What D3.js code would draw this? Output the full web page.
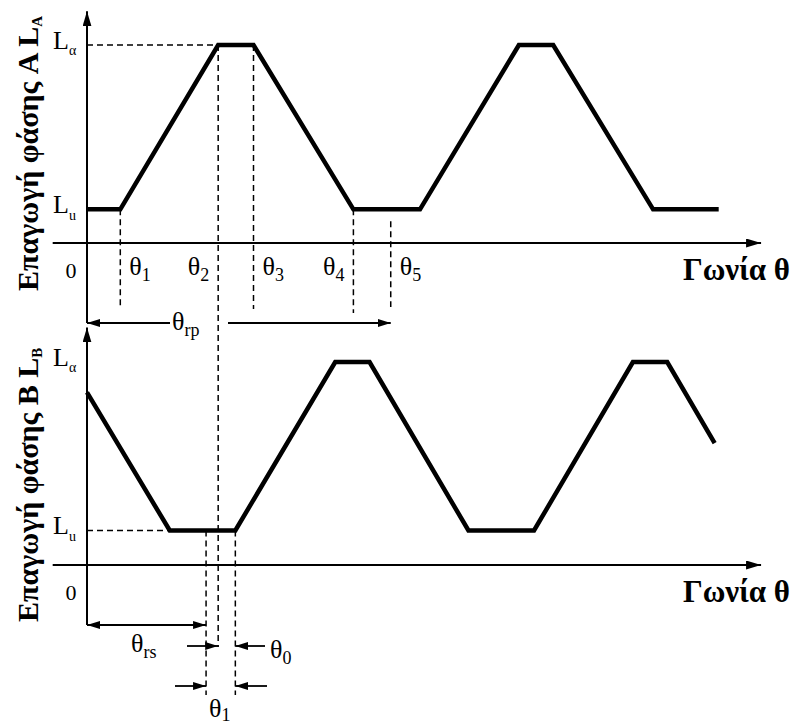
<!DOCTYPE html>
<html>
<head>
<meta charset="utf-8">
<script src="https://cdn.jsdelivr.net/npm/d3@7"></script>
<style>
  html, body { margin: 0; padding: 0; background: #fff; }
  svg { display: block; }
  text { font-family: "Liberation Serif", "Times New Roman", serif; fill: #000; }
</style>
</head>
<body>
<svg id="chart" width="794" height="724"></svg>
<script>
// Inductance levels (normalised): unaligned and aligned
const L_U = 0.17;
const L_A = 1.0;

// Phase A inductance profile: rotor angle (deg) and inductance
const angleA  = [0, 3.3, 13.0, 16.5, 26.4, 33.0, 42.8, 46.2, 56.1, 62.6];
const inductA = [L_U, L_U, L_A, L_A, L_U, L_U, L_A, L_A, L_U, L_U];

// Phase B inductance profile
const angleB  = [0, 8.2, 14.7, 24.6, 28.0, 37.8, 44.3, 54.1, 57.5, 62.2];
const inductB = [0.85, L_U, L_U, L_A, L_A, L_U, L_U, L_A, L_A, 0.60];

// Characteristic angles of phase A (θ1..θ5)
const markAngles = [3.3, 13.0, 16.5, 26.4, 30.1];
const markNames  = ["1", "2", "3", "4", "5"];
const markLevels = [L_U, L_A, L_A, L_U, 0.11];

// Phase B reference angles
const thetaRs = 11.8;   // end of θrs
const thetaB0 = 14.7;   // end of unaligned flat of phase B
const thetaRp = 30.1;   // rotor pole pitch

// Axis level labels
const levelVals  = [L_A, L_U];
const levelNames = ["α", "u"];

const svg = d3.select("#chart");
svg.append("rect").attr("width", 794).attr("height", 724).attr("fill", "#fff");

const x  = d3.scaleLinear().domain([0, 66]).range([87, 753]);
const yA = d3.scaleLinear().domain([0, 1]).range([243, 45]);
const yB = d3.scaleLinear().domain([0, 1]).range([565, 362]);

// arrowhead markers
const defs = svg.append("defs");
function marker(id, len, wid) {
  defs.append("marker")
    .attr("id", id)
    .attr("viewBox", `0 0 ${len} ${wid}`)
    .attr("refX", len).attr("refY", wid / 2)
    .attr("markerWidth", len).attr("markerHeight", wid)
    .attr("markerUnits", "userSpaceOnUse")
    .attr("orient", "auto-start-reverse")
    .append("path")
    .attr("d", `M0,0 L${len},${wid / 2} L0,${wid} Z`)
    .attr("fill", "#000");
}
marker("axisHead", 15, 9);
marker("dimHead", 13, 8);

const dash = "6,4";

function line(x1, y1, x2, y2, opts = {}) {
  const l = svg.append("line")
    .attr("x1", x1).attr("y1", y1).attr("x2", x2).attr("y2", y2)
    .attr("stroke", "#000")
    .attr("stroke-width", opts.w || 1.8);
  if (opts.dash) l.attr("stroke-dasharray", opts.dash).attr("stroke-width", opts.w || 1.5);
  if (opts.end) l.attr("marker-end", `url(#${opts.end})`);
  if (opts.start) l.attr("marker-start", `url(#${opts.start})`);
  return l;
}

// text with a subscript
function subText(px, py, main, sub, size, subSize, anchor, weight) {
  const t = svg.append("text")
    .attr("x", px).attr("y", py)
    .attr("font-size", size)
    .attr("text-anchor", anchor || "start")
    .attr("font-weight", weight || "normal");
  t.append("tspan").text(main);
  t.append("tspan").attr("font-size", subSize).attr("dy", size * 0.24).text(sub);
  return t;
}

function panel(y, angles, values, letter, titleY) {
  // horizontal axis
  line(x(-3.4), y(0), x(66.8), y(0), { end: "axisHead", w: 1.8 });
  // vertical axis
  line(x(0), y.range()[0] + (letter === "A" ? 80 : 60), x(0), y(1.17), { end: "axisHead", w: 2 });

  // level labels
  levelVals.forEach((v, i) => {
    subText(53, y(v) + 4, "L", levelNames[i], 26, 14);
  });
  svg.append("text").attr("x", 71).attr("y", y(0) + 35)
    .attr("text-anchor", "middle").attr("font-size", 22).attr("fill", "#222").text("0");

  // horizontal axis title
  svg.append("text").attr("x", 790).attr("y", y(0) + 37)
    .attr("text-anchor", "end").attr("font-size", 31).attr("font-weight", "bold")
    .text("Γωνία θ");

  // vertical axis title
  const t = svg.append("text")
    .attr("transform", `translate(38,${titleY}) rotate(-90)`)
    .attr("font-size", 30).attr("font-weight", "bold");
  t.append("tspan").text(`Επαγωγή φάσης ${letter} L`);
  t.append("tspan").attr("font-size", 15).attr("dy", 4).text(letter);

  // inductance waveform
  const pts = angles.map((a, i) => [a, values[i]]);
  svg.append("path")
    .datum(pts)
    .attr("d", d3.line().x(d => x(d[0])).y(d => y(d[1])))
    .attr("fill", "none")
    .attr("stroke", "#000")
    .attr("stroke-width", 4.5)
    .attr("stroke-linejoin", "miter");
}

panel(yA, angleA, inductA, "A", 291);
panel(yB, angleB, inductB, "B", 622);

// ---- phase A annotations ----
line(x(0), yA(L_A), x(markAngles[1]), yA(L_A), { dash });
const markBottoms = [308, 647, 309, 313, 307];
const labelSide = [1, -1, 1, -1, 1];
markAngles.forEach((a, i) => {
  line(x(a), yA(markLevels[i]), x(a), markBottoms[i], { dash });
  const px = x(a) + labelSide[i] * 9;
  subText(px, 275, "θ", markNames[i], 26, 18, labelSide[i] > 0 ? "start" : "end");
});

// θrp dimension
line(170, 323, x(0), 323, { end: "dimHead", w: 1.8 });
line(228, 323, x(thetaRp), 323, { end: "dimHead", w: 1.8 });
subText(172, 330, "θ", "rp", 26, 18);

// ---- phase B annotations ----
line(x(0), yB(L_U), x(angleB[1]), yB(L_U), { dash });
line(x(thetaRs), yB(L_U), x(thetaRs), 695, { dash });
line(x(thetaB0), yB(L_U), x(thetaB0), 695, { dash });

// θrs dimension
line(x(0), 625, x(thetaRs), 625, { start: "dimHead", end: "dimHead", w: 1.8 });
subText(131, 652, "θ", "rs", 26, 18);

// θ0 dimension (outside arrows)
line(187, 646, x(markAngles[1]), 646, { end: "dimHead", w: 1.8 });
line(265, 646, x(thetaB0), 646, { end: "dimHead", w: 1.8 });
subText(270, 658, "θ", "0", 26, 18);

// θ1 dimension (outside arrows)
const t1 = svg.append("text").attr("x", 209).attr("y", 717).attr("font-size", 26);
t1.append("tspan").text("θ");
t1.append("tspan").attr("font-size", 18).attr("dy", 4).text("1");

line(175, 686, x(thetaRs), 686, { end: "dimHead", w: 1.8 });
line(267, 686, x(thetaB0), 686, { end: "dimHead", w: 1.8 });
</script>
</body>
</html>
